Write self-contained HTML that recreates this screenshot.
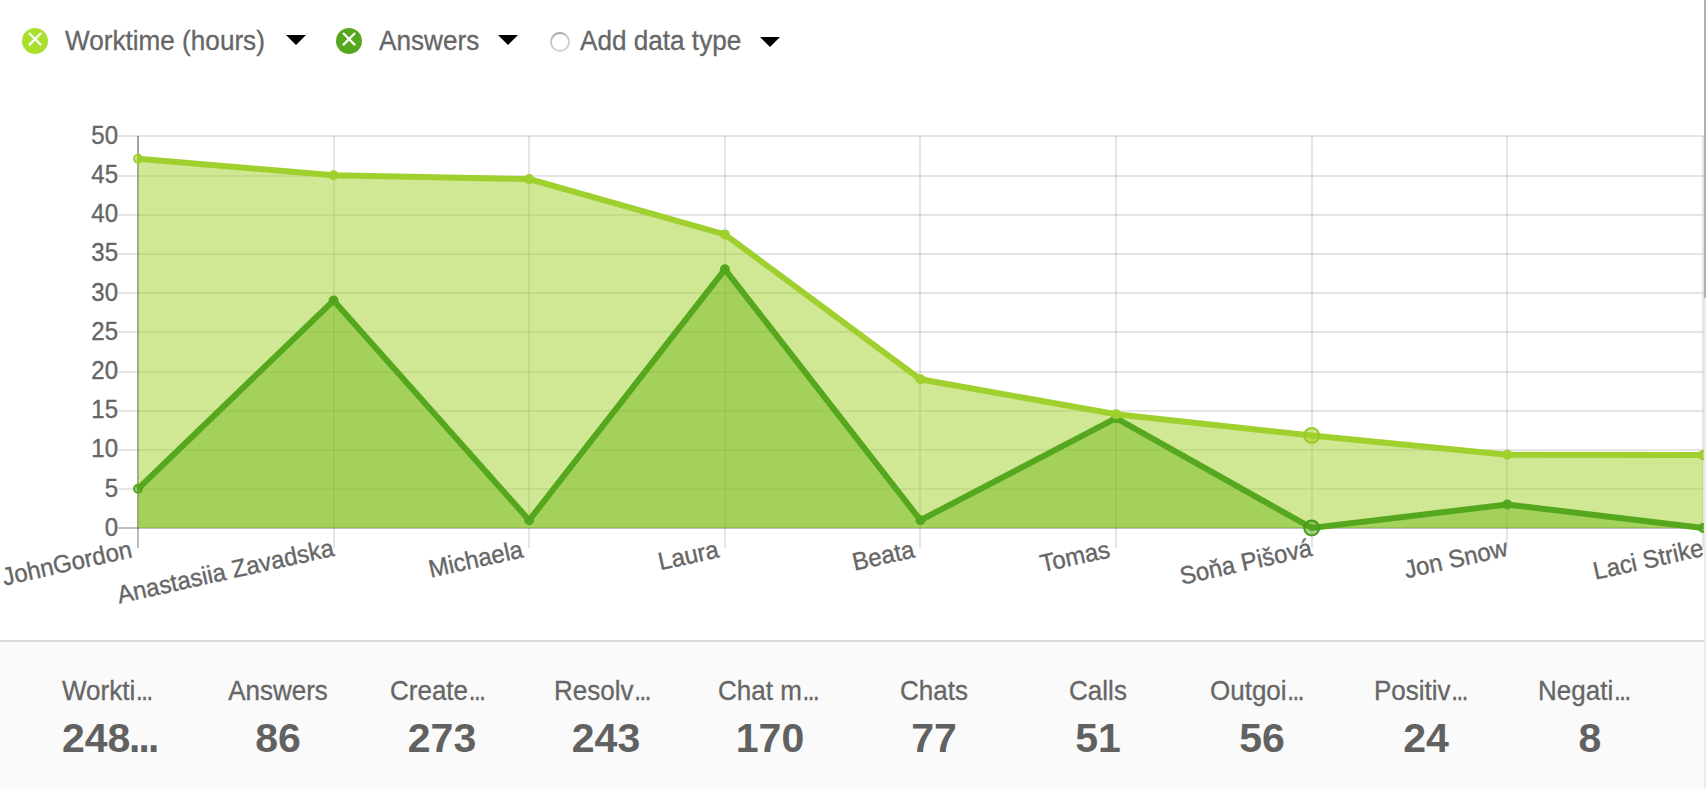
<!DOCTYPE html>
<html lang="en">
<head>
<meta charset="utf-8">
<title>Agent report chart</title>
<style>
html, body { margin:0; padding:0; }
body { width:1706px; height:788px; overflow:hidden; background:#fff; position:relative;
  font-family:"Liberation Sans", Arial, sans-serif; color:#666; }
.legend { position:absolute; left:0; top:0; width:1704px; height:90px; }
.legend .item { position:absolute; top:0; height:82px; }
.legend .dot { position:absolute; width:26px; height:26px; border-radius:50%; top:28px; }
.legend .dot svg { position:absolute; left:0; top:0; }
.legend .txt { position:absolute; top:26px; font-size:26px; line-height:30px; white-space:nowrap; color:#666; -webkit-text-stroke:0.3px #666; transform:scale(1.005,1.05); transform-origin:0 24px; }
.legend .caret { position:absolute; width:0; height:0; border-left:10px solid transparent; border-right:10px solid transparent; border-top:10px solid #000; }
.legend .radio { position:absolute; left:548px; top:30px; }
.chart { position:absolute; left:0; top:0; }
.stats { position:absolute; left:0; top:640px; width:1704px; height:148px; background:#fafafa; border-top:2px solid #dadada; box-sizing:border-box; }
.cell { position:absolute; top:0; width:104px; text-align:center; white-space:nowrap; }
.cell .left { text-align:left; }
.e { font-family:"Liberation Mono", monospace; margin-left:1.5px; }
.eb { font-family:"Liberation Mono", monospace; font-size:44px; line-height:30px; }
.cell .lab { position:absolute; left:0; width:104px; top:34px; font-size:26px; line-height:30px; color:#666; -webkit-text-stroke:0.3px #666; transform:scaleY(1.04); transform-origin:0 24px; }
.cell .val { position:absolute; left:0; width:104px; top:74px; font-size:40px; line-height:44px; font-weight:bold; color:#616161; transform:scaleX(1.025); transform-origin:50% 50%; }
.cell .val.left { transform-origin:0 50%; }
.scroll { position:absolute; left:1704px; top:0; width:2px; height:788px; background:#ebebeb; }
.scroll .thumb { position:absolute; left:0; top:0; width:2px; height:298px; background:#b0b0b0; }
</style>
</head>
<body>
<svg class="chart" width="1706" height="640" viewBox="0 0 1706 640">
<defs><clipPath id="plot"><rect x="0" y="100" width="1704" height="480"/></clipPath></defs>
<g class="grid">
<rect x="118" y="488.0" width="1585" height="2" fill="rgba(0,0,0,0.1)"/>
<rect x="118" y="449.0" width="1585" height="2" fill="rgba(0,0,0,0.1)"/>
<rect x="118" y="410.0" width="1585" height="2" fill="rgba(0,0,0,0.1)"/>
<rect x="118" y="371.0" width="1585" height="2" fill="rgba(0,0,0,0.1)"/>
<rect x="118" y="331.0" width="1585" height="2" fill="rgba(0,0,0,0.1)"/>
<rect x="118" y="292.0" width="1585" height="2" fill="rgba(0,0,0,0.1)"/>
<rect x="118" y="253.0" width="1585" height="2" fill="rgba(0,0,0,0.1)"/>
<rect x="118" y="214.0" width="1585" height="2" fill="rgba(0,0,0,0.1)"/>
<rect x="118" y="175.0" width="1585" height="2" fill="rgba(0,0,0,0.1)"/>
<rect x="118" y="135.0" width="1585" height="2" fill="rgba(0,0,0,0.1)"/>
<rect x="333.0" y="136.0" width="2" height="412.0" fill="rgba(0,0,0,0.1)"/>
<rect x="528.0" y="136.0" width="2" height="412.0" fill="rgba(0,0,0,0.1)"/>
<rect x="724.0" y="136.0" width="2" height="412.0" fill="rgba(0,0,0,0.1)"/>
<rect x="919.0" y="136.0" width="2" height="412.0" fill="rgba(0,0,0,0.1)"/>
<rect x="1115.0" y="136.0" width="2" height="412.0" fill="rgba(0,0,0,0.1)"/>
<rect x="1311.0" y="136.0" width="2" height="412.0" fill="rgba(0,0,0,0.1)"/>
<rect x="1506.0" y="136.0" width="2" height="412.0" fill="rgba(0,0,0,0.1)"/>
<rect x="1702.0" y="136.0" width="2" height="412.0" fill="rgba(0,0,0,0.1)"/>
<rect x="118" y="527.0" width="1586" height="2" fill="rgba(0,0,0,0.25)"/>
<rect x="137.0" y="136.0" width="2" height="392.0" fill="rgba(0,0,0,0.36)"/>
<rect x="137.0" y="528.0" width="2" height="20" fill="rgba(0,0,0,0.27)"/>
</g>
<g class="ylab" font-family="'Liberation Sans', Arial, Helvetica, sans-serif" font-size="24" fill="#666" stroke="#666" stroke-width="0.35" text-anchor="end">
<text transform="translate(118,535.8) scale(1,1.04)">0</text>
<text transform="translate(118,496.6) scale(1,1.04)">5</text>
<text transform="translate(118,457.4) scale(1,1.04)">10</text>
<text transform="translate(118,418.2) scale(1,1.04)">15</text>
<text transform="translate(118,379.0) scale(1,1.04)">20</text>
<text transform="translate(118,339.8) scale(1,1.04)">25</text>
<text transform="translate(118,300.6) scale(1,1.04)">30</text>
<text transform="translate(118,261.4) scale(1,1.04)">35</text>
<text transform="translate(118,222.2) scale(1,1.04)">40</text>
<text transform="translate(118,183.0) scale(1,1.04)">45</text>
<text transform="translate(118,143.8) scale(1,1.04)">50</text>
</g>
<g class="xlab" font-family="'Liberation Sans', Arial, Helvetica, sans-serif" font-size="24" fill="#666" stroke="#666" stroke-width="0.35" text-anchor="end">
<text transform="translate(138.0,548) rotate(-12.5) translate(0,7.8) scale(1,1.04)">JohnGordon&#160;</text>
<text transform="translate(333.6,548) rotate(-12.5) translate(0,7.8) scale(1,1.04)">Anastasiia Zavadska</text>
<text transform="translate(529.2,548) rotate(-12.5) translate(0,7.8) scale(1,1.04)">Michaela&#160;</text>
<text transform="translate(724.9,548) rotate(-12.5) translate(0,7.8) scale(1,1.04)">Laura&#160;</text>
<text transform="translate(920.5,548) rotate(-12.5) translate(0,7.8) scale(1,1.04)">Beata&#160;</text>
<text transform="translate(1116.1,548) rotate(-12.5) translate(0,7.8) scale(1,1.04)">Tomas&#160;</text>
<text transform="translate(1311.7,548) rotate(-12.5) translate(0,7.8) scale(1,1.04)">Soňa Pišová</text>
<text transform="translate(1507.3,548) rotate(-12.5) translate(0,7.8) scale(1,1.04)">Jon Snow</text>
<text transform="translate(1703.0,548) rotate(-12.5) translate(0,7.8) scale(1,1.04)">Laci Strike</text>
</g>
<g clip-path="url(#plot)">
<polygon points="138.0,488.8 333.6,300.6 529.2,520.2 724.9,269.3 920.5,520.2 1116.1,418.2 1311.7,528.0 1507.3,504.5 1703.0,528.0 1703.0,528.0 138.0,528.0" fill="rgba(78,162,30,0.5)"/>
<polygon points="138.0,158.7 333.6,175.2 529.2,179.1 724.9,234.4 920.5,379.3 1116.1,414.3 1311.7,435.5 1507.3,454.8 1703.0,455.1 1703.0,528.0 138.0,528.0" fill="rgba(161,208,42,0.5)"/>
<polyline points="138.0,488.8 333.6,300.6 529.2,520.2 724.9,269.3 920.5,520.2 1116.1,418.2 1311.7,528.0 1507.3,504.5 1703.0,528.0" fill="none" stroke="#55a71e" stroke-width="6" stroke-linejoin="miter" stroke-linecap="butt"/>
<circle cx="138.0" cy="488.8" r="4" fill="rgba(78,162,30,0.5)" stroke="#55a71e" stroke-width="2"/>
<circle cx="333.6" cy="300.6" r="4" fill="rgba(78,162,30,0.5)" stroke="#55a71e" stroke-width="2"/>
<circle cx="529.2" cy="520.2" r="4" fill="rgba(78,162,30,0.5)" stroke="#55a71e" stroke-width="2"/>
<circle cx="724.9" cy="269.3" r="4" fill="rgba(78,162,30,0.5)" stroke="#55a71e" stroke-width="2"/>
<circle cx="920.5" cy="520.2" r="4" fill="rgba(78,162,30,0.5)" stroke="#55a71e" stroke-width="2"/>
<circle cx="1116.1" cy="418.2" r="4" fill="rgba(78,162,30,0.5)" stroke="#55a71e" stroke-width="2"/>
<circle cx="1311.7" cy="528.0" r="7.5" fill="rgba(78,162,30,0.5)" stroke="#479c19" stroke-width="2"/>
<circle cx="1507.3" cy="504.5" r="4" fill="rgba(78,162,30,0.5)" stroke="#55a71e" stroke-width="2"/>
<circle cx="1703.0" cy="528.0" r="4" fill="rgba(78,162,30,0.5)" stroke="#55a71e" stroke-width="2"/>
<polyline points="138.0,158.7 333.6,175.2 529.2,179.1 724.9,234.4 920.5,379.3 1116.1,414.3 1311.7,435.5 1507.3,454.8 1703.0,455.1" fill="none" stroke="#9fd02d" stroke-width="6" stroke-linejoin="miter" stroke-linecap="butt"/>
<circle cx="138.0" cy="158.7" r="4" fill="rgba(161,208,42,0.5)" stroke="#9fd02d" stroke-width="2"/>
<circle cx="333.6" cy="175.2" r="4" fill="rgba(161,208,42,0.5)" stroke="#9fd02d" stroke-width="2"/>
<circle cx="529.2" cy="179.1" r="4" fill="rgba(161,208,42,0.5)" stroke="#9fd02d" stroke-width="2"/>
<circle cx="724.9" cy="234.4" r="4" fill="rgba(161,208,42,0.5)" stroke="#9fd02d" stroke-width="2"/>
<circle cx="920.5" cy="379.3" r="4" fill="rgba(161,208,42,0.5)" stroke="#9fd02d" stroke-width="2"/>
<circle cx="1116.1" cy="414.3" r="4" fill="rgba(161,208,42,0.5)" stroke="#9fd02d" stroke-width="2"/>
<circle cx="1311.7" cy="435.5" r="7.5" fill="rgba(161,208,42,0.5)" stroke="#98cb28" stroke-width="2"/>
<circle cx="1507.3" cy="454.8" r="4" fill="rgba(161,208,42,0.5)" stroke="#9fd02d" stroke-width="2"/>
<circle cx="1703.0" cy="455.1" r="4" fill="rgba(161,208,42,0.5)" stroke="#9fd02d" stroke-width="2"/>
</g>
</svg>
<div class="legend">
  <div class="dot" style="left:22px;background:#aae02d"><svg width="26" height="26" viewBox="0 0 26 26"><path d="M7 5.05 L19.1 17.15 M19.1 5.05 L7 17.15" stroke="#fff" stroke-width="2.2" fill="none"/></svg></div>
  <div class="txt" id="t1" style="left:65px">Worktime (hours)</div>
  <div class="caret" style="left:286px;top:35px"></div>
  <div class="dot" style="left:336px;background:#56a71e"><svg width="26" height="26" viewBox="0 0 26 26"><path d="M7 5.05 L19.1 17.15 M19.1 5.05 L7 17.15" stroke="#fff" stroke-width="2.2" fill="none"/></svg></div>
  <div class="txt" id="t2" style="left:379px">Answers</div>
  <div class="caret" style="left:498px;top:35px"></div>
  <svg class="radio" width="24" height="24" viewBox="0 0 24 24"><defs><linearGradient id="rg" x1="0.35" y1="0" x2="0.65" y2="1"><stop offset="0" stop-color="#a2a2a2"/><stop offset="0.3" stop-color="#c6c6c6"/><stop offset="1" stop-color="#d4d4d4"/></linearGradient></defs><circle cx="12" cy="12" r="9" fill="#fff" stroke="url(#rg)" stroke-width="2"/></svg>
  <div class="txt" id="t3" style="left:580px">Add data type</div>
  <div class="caret" style="left:760px;top:37px"></div>
</div>
<div class="stats">
<div class="cell" style="left:62px"><div class="lab left">Workti<span class="e">…</span></div><div class="val left">248<span class="eb">…</span></div></div>
<div class="cell" style="left:226px"><div class="lab">Answers</div><div class="val">86</div></div>
<div class="cell" style="left:390px"><div class="lab left">Create<span class="e">…</span></div><div class="val">273</div></div>
<div class="cell" style="left:554px"><div class="lab left">Resolv<span class="e">…</span></div><div class="val">243</div></div>
<div class="cell" style="left:718px"><div class="lab left">Chat m<span class="e">…</span></div><div class="val">170</div></div>
<div class="cell" style="left:882px"><div class="lab">Chats</div><div class="val">77</div></div>
<div class="cell" style="left:1046px"><div class="lab">Calls</div><div class="val">51</div></div>
<div class="cell" style="left:1210px"><div class="lab left">Outgoi<span class="e">…</span></div><div class="val">56</div></div>
<div class="cell" style="left:1374px"><div class="lab left">Positiv<span class="e">…</span></div><div class="val">24</div></div>
<div class="cell" style="left:1538px"><div class="lab left">Negati<span class="e">…</span></div><div class="val">8</div></div>
</div>
<div class="scroll"><div class="thumb"></div></div>
</body>
</html>
